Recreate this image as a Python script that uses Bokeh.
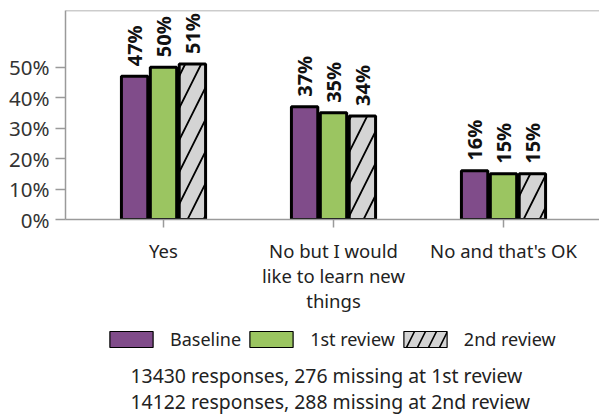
import numpy as np
from bokeh.plotting import figure
from bokeh.layouts import column
from bokeh.models import (ColumnDataSource, Range1d, FixedTicker, Legend, LegendItem,
                          Label, PrintfTickFormatter, Span)
from bokeh.core.properties import value
from bokeh.embed import file_html
from bokeh.resources import INLINE

categories = ["Yes", "No but I would\nlike to learn new\nthings", "No and that's OK"]
series_names = ["Baseline", "1st review", "2nd review"]
baseline = [47, 37, 16]
review1 = [50, 35, 15]
review2 = [51, 34, 15]
y_ticks = [0, 10, 20, 30, 40, 50]
footnotes = ["13430 responses, 276 missing at 1st review",
             "14122 responses, 288 missing at 2nd review"]

FONT = "Noto Sans"
GRID = "#9a9a9a"
colors = ["#804c8a", "#9bc561", "#d4d4d4"]
hatches = [None, None, "/"]
offsets = [-0.17, 0.0, 0.17]
Y_TOP = 68.6
W = 599
H1, H2 = 315, 99
LEFT = 65

p = figure(width=W, height=H1, output_backend="svg", toolbar_location=None,
           x_range=Range1d(-0.5765, 2.5647), y_range=Range1d(0, Y_TOP),
           min_border_left=LEFT, min_border_top=10, min_border_right=0, min_border_bottom=95)
p.xgrid.visible = False
p.ygrid.visible = False
p.outline_line_color = None
p.background_fill_color = "white"
p.border_fill_color = "white"
p.add_layout(Span(location=Y_TOP, dimension="width", line_color=GRID, line_width=1.5))

xs = np.arange(len(categories))
for vals, name, col, hat, off in zip([baseline, review1, review2], series_names, colors, hatches, offsets):
    src = ColumnDataSource(dict(x=xs + off, top=vals, lab=[f"{v}%" for v in vals]))
    kw = dict(fill_color=col, line_color="black", line_width=3)
    if hat:
        kw.update(hatch_pattern=hat, hatch_color="black", hatch_weight=1.8, hatch_scale=32)
    p.vbar(x="x", top="top", width=0.155, source=src, **kw)
    p.text(x="x", y="top", text="lab", source=src, angle=np.pi / 2, text_align="left",
           text_baseline="middle", y_offset=-10, text_font=value(FONT), text_font_style="bold",
           text_font_size="20px", text_color="#111")

p.yaxis.ticker = FixedTicker(ticks=y_ticks)
p.yaxis.formatter = PrintfTickFormatter(format="%d%%")
p.yaxis.major_tick_out = 10
p.yaxis.major_tick_in = 0
p.yaxis.minor_tick_line_color = None
p.yaxis.axis_line_color = GRID
p.yaxis.axis_line_width = 1.5
p.yaxis.major_tick_line_color = GRID
p.yaxis.major_tick_line_width = 1.5
p.yaxis.major_label_text_font = FONT
p.yaxis.major_label_text_font_size = "20.5px"
p.yaxis.major_label_text_color = "#333333"
p.yaxis.major_label_standoff = 6

p.xaxis.ticker = FixedTicker(ticks=list(xs))
p.xaxis.major_label_overrides = {int(i): c for i, c in zip(xs, categories)}
p.xaxis.major_tick_out = 8
p.xaxis.major_tick_in = 0
p.xaxis.minor_tick_line_color = None
p.xaxis.axis_line_color = GRID
p.xaxis.axis_line_width = 1.5
p.xaxis.major_tick_line_color = GRID
p.xaxis.major_tick_line_width = 1.5
p.xaxis.major_label_text_font = FONT
p.xaxis.major_label_text_font_size = "18.5px"
p.xaxis.major_label_text_color = "#222222"
p.xaxis.major_label_text_line_height = 1.0
p.xaxis.major_label_standoff = 10

# lower panel: legend + footnotes (frame aligned with the chart frame)
q = figure(width=W, height=H2, output_backend="svg", toolbar_location=None,
           x_range=Range1d(LEFT, W), y_range=Range1d(0, H2),
           x_axis_type=None, y_axis_type=None, min_border_left=LEFT, min_border_right=0,
           min_border_top=0, min_border_bottom=0)
q.xgrid.visible = False
q.ygrid.visible = False
q.outline_line_color = None

items = []
for name, col, hat in zip(series_names, colors, hatches):
    lkw = dict(fill_color=col, line_color="black", line_width=1.2)
    if hat:
        lkw.update(hatch_pattern=hat, hatch_color="black", hatch_weight=1.6, hatch_scale=22)
    proxy = q.vbar(x=[-100], top=[0], width=1, **lkw)
    items.append(LegendItem(label=name, renderers=[proxy]))

legend = Legend(items=items, orientation="horizontal", location=(39, 63),
                glyph_width=54, glyph_height=20, label_standoff=12, spacing=3,
                padding=0, margin=0, border_line_color=None, background_fill_alpha=0,
                label_text_font=FONT, label_text_font_size="18px", label_text_color="#222222",
                label_height=20)
q.add_layout(legend)

for t, yy in zip(footnotes, [39, 13]):
    q.add_layout(Label(x=130, y=yy, text=t, text_font=FONT, text_font_size="19.4px",
                       text_color="#222222", text_baseline="middle"))

open("out.html", "w").write(file_html(column(p, q, spacing=0), INLINE))
